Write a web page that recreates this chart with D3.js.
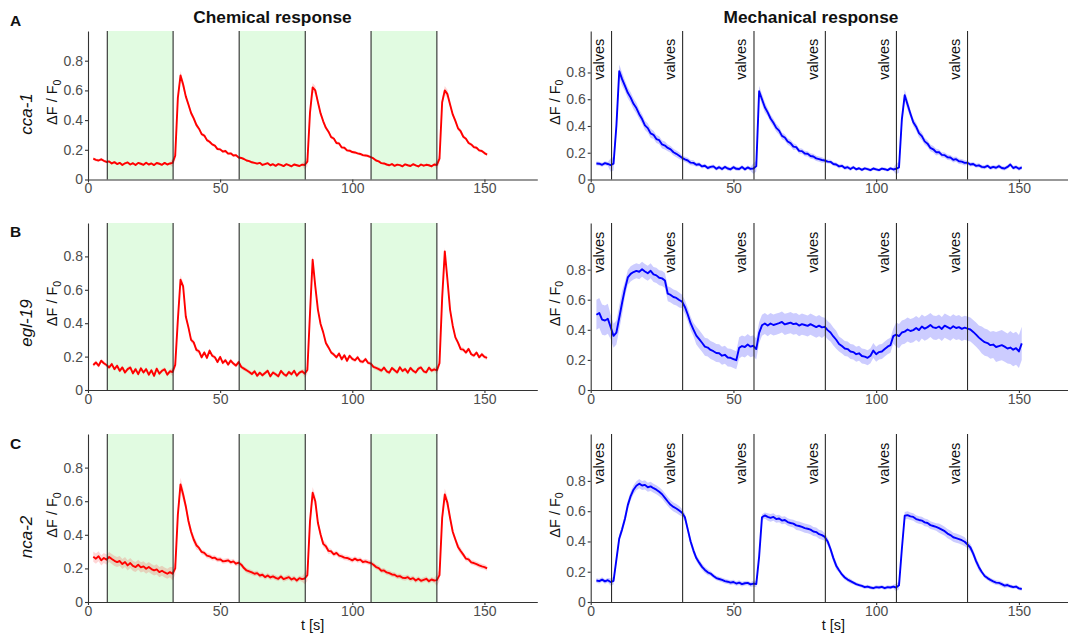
<!DOCTYPE html>
<html>
<head>
<meta charset="utf-8">
<script src="https://cdn.jsdelivr.net/npm/d3@7"></script>
<style>
  body { margin: 0; background: #fff; }
  svg { display: block; font-family: "Liberation Sans", Arial, Helvetica, sans-serif; }
</style>
</head>
<body>
<svg id="fig" width="1068" height="637"></svg>
<script>
// ---- sampling grid and stimulus timing (seconds) ----
const time = d3.range(2, 152);                       // one sample per second, 2 s .. 151 s
const stimulusLines = [7.3, 32.2, 57.2, 82.2, 107.1, 132.0];
const odorWindows = [[7.3, 32.2], [57.2, 82.2], [107.1, 132.0]];
const xTicks = [0, 50, 100, 150];
const yTicks = [0, 0.2, 0.4, 0.6, 0.8];
const strains = ["cca-1", "egl-19", "nca-2"];
const rowLetters = ["A", "B", "C"];
const columnTitles = ["Chemical response", "Mechanical response"];

// ---- mean ΔF/F0 traces, 150 samples each ----
const cca1Chem = [
  0.140,0.132,0.128,0.136,0.126,0.118,0.122,0.108,0.117,0.104,
  0.112,0.098,0.109,0.115,0.101,0.110,0.097,0.112,0.106,0.099,
  0.113,0.101,0.108,0.097,0.111,0.106,0.099,0.112,0.101,0.108,
  0.112,0.160,0.550,0.700,0.640,0.560,0.505,0.448,0.412,0.368,
  0.342,0.305,0.296,0.265,0.254,0.236,0.228,0.205,0.203,0.188,
  0.192,0.174,0.176,0.162,0.164,0.148,0.145,0.138,0.128,0.124,
  0.116,0.112,0.107,0.112,0.098,0.104,0.110,0.096,0.103,0.092,
  0.104,0.098,0.090,0.103,0.097,0.089,0.101,0.096,0.091,0.100,
  0.098,0.120,0.450,0.620,0.600,0.520,0.445,0.392,0.348,0.322,
  0.285,0.276,0.246,0.243,0.216,0.214,0.196,0.194,0.185,0.182,
  0.176,0.172,0.164,0.162,0.158,0.150,0.142,0.128,0.122,0.110,
  0.108,0.101,0.096,0.104,0.092,0.100,0.097,0.089,0.102,0.096,
  0.091,0.103,0.095,0.088,0.101,0.093,0.099,0.096,0.089,0.101,
  0.098,0.140,0.520,0.600,0.575,0.505,0.438,0.395,0.345,0.325,
  0.288,0.275,0.246,0.236,0.218,0.214,0.196,0.192,0.178,0.168
];
const cca1Mech = [
  0.120,0.118,0.110,0.122,0.116,0.108,0.118,0.400,0.810,0.750,
  0.700,0.648,0.612,0.566,0.534,0.488,0.452,0.405,0.384,0.345,
  0.334,0.302,0.294,0.262,0.254,0.236,0.225,0.204,0.192,0.178,
  0.162,0.150,0.142,0.126,0.124,0.110,0.114,0.098,0.103,0.086,
  0.094,0.098,0.080,0.092,0.078,0.094,0.082,0.076,0.092,0.080,
  0.078,0.093,0.076,0.090,0.079,0.082,0.100,0.660,0.600,0.540,
  0.502,0.456,0.424,0.386,0.365,0.326,0.314,0.284,0.272,0.246,
  0.242,0.214,0.212,0.194,0.192,0.176,0.172,0.158,0.152,0.146,
  0.142,0.134,0.132,0.116,0.112,0.098,0.102,0.086,0.092,0.078,
  0.092,0.076,0.084,0.072,0.083,0.078,0.070,0.082,0.076,0.070,
  0.081,0.077,0.070,0.083,0.075,0.080,0.090,0.450,0.630,0.560,
  0.492,0.428,0.395,0.346,0.324,0.285,0.268,0.236,0.226,0.204,
  0.205,0.184,0.182,0.166,0.164,0.148,0.152,0.136,0.134,0.124,
  0.125,0.112,0.116,0.102,0.106,0.094,0.092,0.102,0.086,0.094,
  0.088,0.100,0.086,0.082,0.094,0.112,0.086,0.094,0.080,0.090
];
const egl19Chem = [
  0.150,0.165,0.145,0.175,0.160,0.150,0.135,0.155,0.125,0.145,
  0.115,0.135,0.105,0.125,0.135,0.100,0.125,0.095,0.130,0.105,
  0.125,0.092,0.118,0.085,0.128,0.098,0.115,0.124,0.092,0.112,
  0.108,0.150,0.420,0.660,0.620,0.440,0.375,0.300,0.285,0.240,
  0.232,0.196,0.225,0.192,0.236,0.205,0.196,0.168,0.198,0.162,
  0.178,0.152,0.176,0.158,0.146,0.168,0.138,0.128,0.118,0.108,
  0.096,0.112,0.085,0.104,0.088,0.102,0.115,0.082,0.105,0.094,
  0.082,0.114,0.096,0.085,0.108,0.094,0.115,0.086,0.104,0.112,
  0.098,0.120,0.460,0.780,0.620,0.480,0.395,0.345,0.282,0.255,
  0.225,0.212,0.196,0.218,0.184,0.208,0.175,0.205,0.186,0.178,
  0.196,0.172,0.168,0.185,0.162,0.158,0.138,0.132,0.125,0.116,
  0.134,0.112,0.104,0.132,0.118,0.105,0.136,0.114,0.126,0.104,
  0.132,0.115,0.105,0.128,0.135,0.112,0.106,0.134,0.116,0.124,
  0.118,0.160,0.550,0.830,0.660,0.480,0.385,0.315,0.284,0.245,
  0.242,0.224,0.246,0.214,0.206,0.224,0.196,0.214,0.198,0.192
];
const egl19Mech = [
  0.500,0.512,0.468,0.462,0.474,0.418,0.360,0.382,0.480,0.580,
  0.672,0.748,0.772,0.784,0.792,0.786,0.802,0.788,0.776,0.792,
  0.768,0.762,0.746,0.742,0.728,0.640,0.632,0.618,0.612,0.598,
  0.588,0.552,0.502,0.444,0.402,0.362,0.338,0.314,0.288,0.282,
  0.266,0.258,0.246,0.244,0.228,0.234,0.216,0.214,0.206,0.198,
  0.280,0.292,0.286,0.302,0.288,0.294,0.272,0.380,0.430,0.442,
  0.428,0.442,0.432,0.438,0.444,0.452,0.436,0.442,0.448,0.438,
  0.442,0.428,0.438,0.432,0.426,0.438,0.428,0.418,0.428,0.416,
  0.420,0.398,0.382,0.356,0.334,0.306,0.292,0.276,0.272,0.256,
  0.252,0.238,0.244,0.226,0.222,0.214,0.228,0.262,0.238,0.252,
  0.256,0.272,0.288,0.298,0.358,0.368,0.358,0.382,0.388,0.402,
  0.392,0.398,0.412,0.398,0.422,0.408,0.418,0.432,0.416,0.412,
  0.422,0.406,0.428,0.418,0.408,0.424,0.412,0.418,0.406,0.414,
  0.408,0.402,0.386,0.368,0.348,0.332,0.318,0.312,0.298,0.302,
  0.286,0.292,0.298,0.288,0.276,0.282,0.268,0.278,0.256,0.310
];
const nca2Chem = [
  0.270,0.258,0.272,0.248,0.262,0.252,0.268,0.256,0.245,0.238,
  0.244,0.226,0.238,0.218,0.232,0.215,0.208,0.222,0.206,0.212,
  0.198,0.208,0.196,0.188,0.194,0.178,0.186,0.176,0.168,0.178,
  0.168,0.200,0.520,0.700,0.640,0.570,0.482,0.418,0.372,0.338,
  0.322,0.298,0.292,0.276,0.272,0.262,0.264,0.252,0.254,0.242,
  0.244,0.248,0.236,0.242,0.228,0.234,0.222,0.202,0.188,0.182,
  0.176,0.168,0.172,0.158,0.162,0.148,0.158,0.146,0.152,0.144,
  0.138,0.152,0.136,0.142,0.148,0.134,0.142,0.128,0.142,0.136,
  0.140,0.160,0.480,0.650,0.600,0.470,0.402,0.346,0.332,0.304,
  0.302,0.284,0.292,0.276,0.272,0.264,0.262,0.256,0.248,0.258,
  0.248,0.252,0.238,0.242,0.236,0.232,0.222,0.208,0.202,0.186,
  0.188,0.176,0.172,0.164,0.162,0.152,0.154,0.144,0.142,0.148,
  0.136,0.142,0.128,0.138,0.126,0.132,0.138,0.124,0.134,0.128,
  0.130,0.160,0.500,0.640,0.590,0.500,0.418,0.372,0.328,0.304,
  0.282,0.258,0.254,0.236,0.232,0.226,0.218,0.212,0.208,0.200
];
const nca2Mech = [
  0.142,0.138,0.148,0.136,0.144,0.132,0.140,0.280,0.420,0.480,
  0.550,0.640,0.700,0.742,0.768,0.782,0.770,0.774,0.758,0.764,
  0.752,0.742,0.728,0.712,0.688,0.664,0.642,0.628,0.618,0.604,
  0.590,0.560,0.480,0.400,0.340,0.290,0.260,0.232,0.212,0.196,
  0.188,0.172,0.158,0.152,0.146,0.138,0.134,0.128,0.132,0.122,
  0.128,0.118,0.124,0.126,0.116,0.122,0.118,0.300,0.560,0.572,
  0.562,0.556,0.562,0.548,0.552,0.538,0.542,0.528,0.522,0.518,
  0.506,0.502,0.496,0.488,0.484,0.478,0.466,0.462,0.448,0.442,
  0.430,0.400,0.350,0.290,0.240,0.210,0.182,0.162,0.148,0.138,
  0.128,0.118,0.112,0.106,0.098,0.102,0.096,0.092,0.098,0.096,
  0.100,0.092,0.098,0.096,0.102,0.096,0.110,0.350,0.570,0.574,
  0.566,0.562,0.548,0.542,0.538,0.526,0.522,0.508,0.502,0.496,
  0.488,0.478,0.468,0.452,0.442,0.428,0.422,0.416,0.408,0.398,
  0.380,0.360,0.320,0.270,0.230,0.198,0.172,0.158,0.146,0.136,
  0.128,0.126,0.118,0.108,0.112,0.104,0.098,0.102,0.090,0.086
];

// ---- standard error half-widths, one entry per 5-s block ----
const cca1ChemSem  = [0.010,0.008,0.008,0.008,0.008,0.008,0.030,0.018,0.012,0.010,0.010,0.008,0.008,0.008,0.008,0.008,0.030,0.015,0.012,0.010,0.010,0.008,0.008,0.008,0.008,0.008,0.030,0.015,0.012,0.010];
const cca1MechSem  = [0.015,0.050,0.040,0.035,0.030,0.025,0.020,0.015,0.015,0.015,0.015,0.040,0.030,0.025,0.020,0.020,0.015,0.015,0.012,0.012,0.012,0.040,0.030,0.025,0.020,0.020,0.015,0.015,0.015,0.015];
const egl19ChemSem = [0.012,0.012,0.012,0.012,0.012,0.012,0.025,0.015,0.012,0.012,0.012,0.012,0.012,0.012,0.012,0.012,0.025,0.015,0.012,0.012,0.012,0.012,0.012,0.012,0.012,0.012,0.025,0.015,0.012,0.012];
const egl19MechSem = [0.100,0.080,0.050,0.050,0.050,0.050,0.045,0.060,0.060,0.060,0.070,0.070,0.070,0.070,0.070,0.070,0.060,0.050,0.050,0.050,0.050,0.080,0.080,0.080,0.080,0.080,0.080,0.090,0.100,0.110];
const nca2ChemSem  = [0.030,0.030,0.030,0.030,0.030,0.030,0.040,0.025,0.015,0.015,0.015,0.015,0.015,0.015,0.015,0.015,0.035,0.020,0.015,0.015,0.015,0.015,0.015,0.015,0.015,0.015,0.035,0.020,0.015,0.015];
const nca2MechSem  = [0.015,0.025,0.030,0.030,0.030,0.030,0.025,0.020,0.015,0.015,0.015,0.020,0.025,0.025,0.030,0.030,0.025,0.015,0.012,0.012,0.012,0.025,0.025,0.025,0.030,0.030,0.025,0.015,0.015,0.012];

const traces = [
  [{ mean: cca1Chem,  sem: cca1ChemSem  }, { mean: cca1Mech,  sem: cca1MechSem  }],
  [{ mean: egl19Chem, sem: egl19ChemSem }, { mean: egl19Mech, sem: egl19MechSem }],
  [{ mean: nca2Chem,  sem: nca2ChemSem  }, { mean: nca2Mech,  sem: nca2MechSem  }]
];

// ---- layout ----
const rowBox = [
  { top: 31,  bottom: 179.5 },
  { top: 223, bottom: 390 },
  { top: 434, bottom: 602 }
];
const colRange = [[88, 537.3], [590.7, 1076]];
const yMax = [1.0, 1.11];
const lineColor = ["#ff0000", "#0000ff"];
const bandColor = ["rgba(255,0,0,0.16)", "rgba(0,0,255,0.2)"];
const rowLabelY = [114, 323, 537];

const svg = d3.select("#fig");
const axisInk = "#333333";
const tickInk = "#4d4d4d";

// column titles
columnTitles.forEach((t, c) => {
  svg.append("text")
    .attr("x", c === 0 ? 272.5 : 811)
    .attr("y", 23.3)
    .attr("text-anchor", "middle")
    .attr("font-size", 17.3)
    .attr("font-weight", "bold")
    .attr("fill", "#111")
    .text(t);
});

strains.forEach((strain, r) => {
  const box = rowBox[r];

  // panel letter
  svg.append("text")
    .attr("x", 10).attr("y", [26, 236.7, 449.3][r])
    .attr("font-size", 15.5).attr("font-weight", "bold").attr("fill", "#111")
    .text(rowLetters[r]);

  // strain label
  svg.append("text")
    .attr("transform", `translate(32,${rowLabelY[r]}) rotate(-90)`)
    .attr("text-anchor", "middle")
    .attr("font-size", 17)
    .attr("font-style", "italic")
    .attr("fill", "#111")
    .text(strain);

  [0, 1].forEach(c => {
    const x = d3.scaleLinear().domain([0, 170]).range(colRange[c]);
    const y = d3.scaleLinear().domain([0, yMax[c]]).range([box.bottom, box.top]);
    const g = svg.append("g");
    const { mean, sem } = traces[r][c];
    const pts = time.map((t, i) => ({ t, v: mean[i], s: sem[Math.floor(i / 5)] }));

    // odor exposure windows
    if (c === 0) {
      g.selectAll("rect.odor").data(odorWindows).join("rect")
        .attr("class", "odor")
        .attr("x", d => x(d[0]))
        .attr("width", d => x(d[1]) - x(d[0]))
        .attr("y", box.top)
        .attr("height", box.bottom - box.top)
        .attr("fill", "#e1fbe1");
    }

    // SEM ribbon
    g.append("path")
      .datum(pts)
      .attr("fill", bandColor[c])
      .attr("d", d3.area().x(d => x(d.t)).y0(d => y(d.v - d.s)).y1(d => y(d.v + d.s)));

    // mean trace
    g.append("path")
      .datum(pts)
      .attr("fill", "none")
      .attr("stroke", lineColor[c])
      .attr("stroke-width", 1.9)
      .attr("stroke-linejoin", "round")
      .attr("d", d3.line().x(d => x(d.t)).y(d => y(d.v)));

    // stimulus switch markers
    g.selectAll("line.stim").data(stimulusLines).join("line")
      .attr("class", "stim")
      .attr("x1", d => x(d)).attr("x2", d => x(d))
      .attr("y1", box.top).attr("y2", box.bottom)
      .attr("stroke", "#2b2b2b").attr("stroke-width", 1.1);

    if (c === 1) {
      g.selectAll("text.valve").data(stimulusLines).join("text")
        .attr("class", "valve")
        .attr("transform", d => `translate(${x(d) - 7.8},${y(1.052)}) rotate(-90)`)
        .attr("text-anchor", "end")
        .attr("font-size", 14.5)
        .attr("fill", "#111")
        .text("valves");
    }

    // axes
    const yAxis = g.append("g")
      .attr("transform", `translate(${colRange[c][0]},0)`)
      .call(d3.axisLeft(y).tickValues(yTicks)
        .tickFormat(d => d === 0 ? "0" : d3.format(".1f")(d))
        .tickSize(3).tickSizeOuter(0).tickPadding(2));
    const xAxis = g.append("g")
      .attr("transform", `translate(0,${box.bottom})`)
      .call(d3.axisBottom(x).tickValues(xTicks).tickSize(3).tickSizeOuter(0).tickPadding(1));
    [yAxis, xAxis].forEach(a => {
      a.select(".domain").attr("stroke", axisInk).attr("stroke-width", 1.1);
      a.selectAll(".tick line").attr("stroke", axisInk).attr("stroke-width", 1.1);
      a.selectAll(".tick text").attr("fill", tickInk).attr("font-size", 14)
        .attr("font-family", "\"Liberation Sans\", Arial, sans-serif");
    });

    // y-axis title ΔF / F0
    const yt = g.append("text")
      .attr("transform", `translate(${colRange[c][0] - 31},${(box.top + box.bottom) / 2 - 3}) rotate(-90)`)
      .attr("text-anchor", "middle")
      .attr("font-size", 14.5)
      .attr("fill", "#111");
    yt.append("tspan").text("ΔF / F");
    yt.append("tspan").attr("font-size", 10.5).attr("dy", 3.5).text("0");

    // x-axis title under the bottom row
    if (r === 2) {
      g.append("text")
        .attr("x", (colRange[c][0] + colRange[c][1]) / 2)
        .attr("y", 630)
        .attr("text-anchor", "middle")
        .attr("font-size", 14.5)
        .attr("fill", "#111")
        .text("t [s]");
    }
  });
});
</script>
</body>
</html>
